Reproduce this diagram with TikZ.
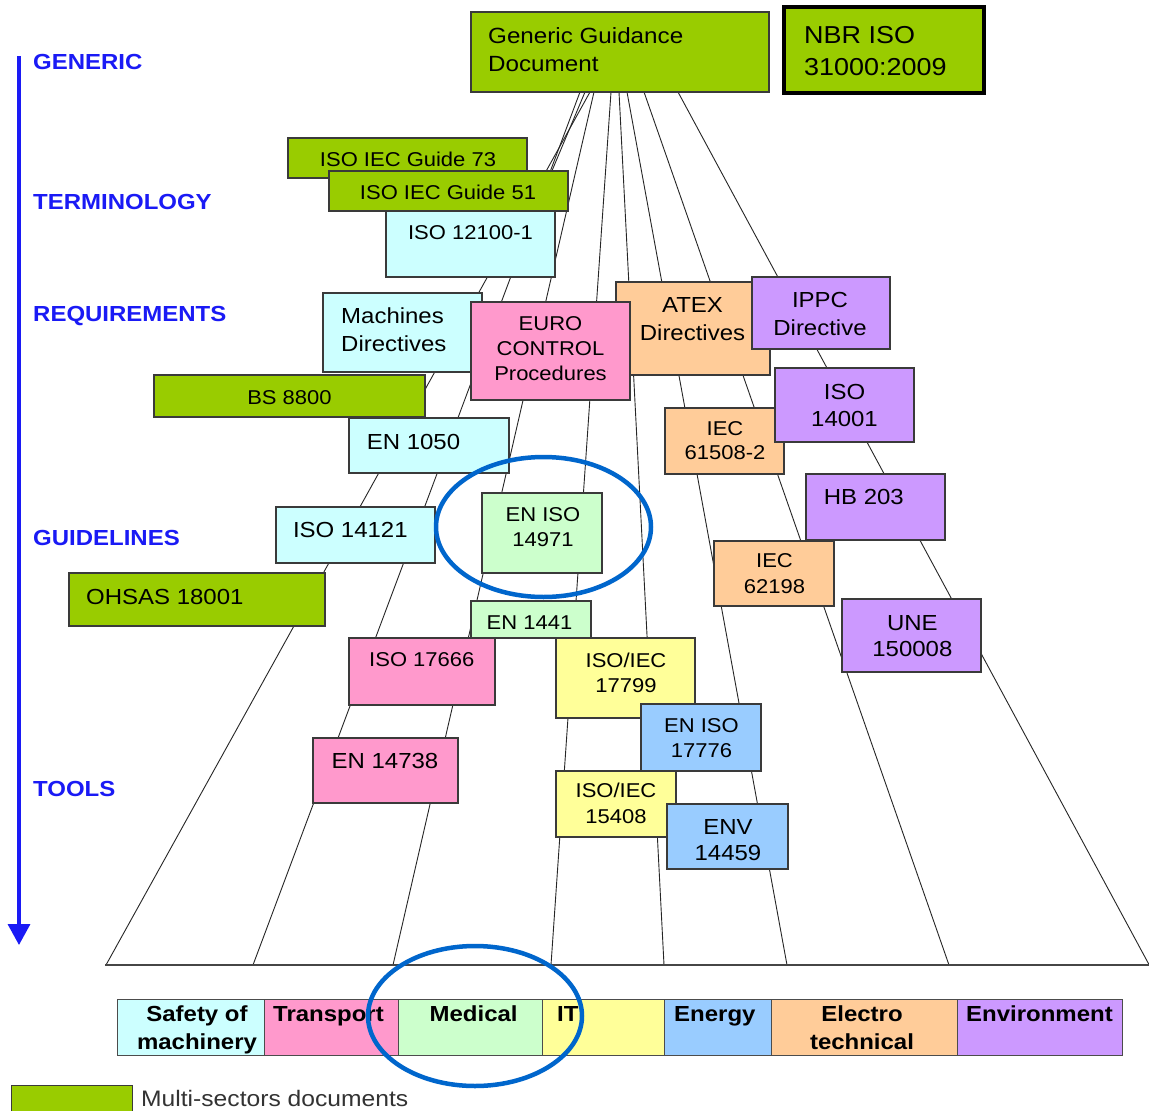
\documentclass[tikz,border=0pt]{standalone}
\usepackage{fontspec}
\setmainfont{Liberation Sans}[FakeStretch=1.1]
\usetikzlibrary{arrows.meta,shapes.geometric}
\definecolor{cgreen}{HTML}{99CC00}
\definecolor{ccyan}{HTML}{CCFFFF}
\definecolor{cpink}{HTML}{FF99CC}
\definecolor{clgreen}{HTML}{CCFFCC}
\definecolor{cyellow}{HTML}{FFFF99}
\definecolor{cblue}{HTML}{99CCFF}
\definecolor{corange}{HTML}{FFCC99}
\definecolor{clilac}{HTML}{CC99FF}
\definecolor{catblue}{HTML}{1A1AF5}
\definecolor{ringblue}{HTML}{0066CC}
\definecolor{boxline}{HTML}{3A3A3A}
\definecolor{legtext}{HTML}{333333}
\newcommand\mkbox[7][]{\node[box,#1,fill=#7,minimum width={#5-#3},minimum height={#6-#4},anchor=north west] (#2) at (#3,#4) {};}
\tikzset{
 box/.style={draw=boxline,line width=1.2pt,rectangle,inner sep=0pt,outer sep=0pt},
 sm/.style={inner sep=0pt,align=center,font=\fontsize{20}{25}\selectfont},
 lg/.style={inner sep=0pt,align=center,font=\fontsize{21.8}{28}\selectfont},
 cat/.style={inner sep=0pt,anchor=base west,text=catblue,font=\bfseries\fontsize{21.8}{26}\selectfont},
 sec/.style={inner sep=0pt,align=center,font=\bfseries\fontsize{21.8}{28}\selectfont},
 ray/.style={draw=black!85,line width=0.9pt},
 ring/.style={ellipse,draw=ringblue,line width=4.5pt,inner sep=0pt},
 secbox/.style={draw=gray!60!black,line width=1pt},
}
\begin{document}
\begin{tikzpicture}[x=1pt,y=-1pt]
\clip (0,0) rectangle (1149,1111);
\fill[white] (0,0) rectangle (1149,1111);
% ray end points
\coordinate (t0) at (585,92);
\coordinate (t1) at (590,92);
\coordinate (t2) at (580,92);
\coordinate (t3) at (594,92);
\coordinate (t4) at (611,92);
\coordinate (t5) at (619,92);
\coordinate (t6) at (627,92);
\coordinate (t7) at (644,92);
\coordinate (t8) at (678,92);
\coordinate (g51in) at (546,185);
\coordinate (b1) at (106,965);
\coordinate (b2) at (253,965);
\coordinate (b3) at (393,965);
\coordinate (b4) at (551,965);
\coordinate (b5) at (664,965);
\coordinate (b6) at (787,965);
\coordinate (b7) at (949,965);
\coordinate (b8) at (1180,1022);
\coordinate (bl1) at (105,965);
\coordinate (bl2) at (1149,965);
\coordinate (atop) at (19,56);
\coordinate (abot) at (19,945);
% rays
\draw[ray] (t0) -- (g51in);
\draw[ray] (t1) -- (b1);
\draw[ray] (t2) -- (b2);
\draw[ray] (t3) -- (b3);
\draw[ray] (t4) -- (b4);
\draw[ray] (t5) -- (b5);
\draw[ray] (t6) -- (b6);
\draw[ray] (t7) -- (b7);
\draw[ray] (t8) -- (b8);
\draw[line width=2.5pt,draw=gray!55!black] (bl1) -- (bl2);
% arrow
\draw[catblue,line width=3.5pt,-{Triangle[width=22pt,length=21pt]}] (atop) -- (abot);
% category labels
\node[cat] (lgeneric) at (33,69.8) {GENERIC};
\node[cat] (lterm) at (33,209.8) {TERMINOLOGY};
\node[cat] (lreq) at (33,321.8) {REQUIREMENTS};
\node[cat] (lguide) at (33,545.8) {GUIDELINES};
\node[cat] (ltools) at (33,796.8) {TOOLS};
% boxes
\mkbox{gen}{471}{12}{769}{92}{cgreen}
\mkbox[draw=black,line width=4pt]{nbr}{784}{7}{984}{93}{cgreen}
\mkbox{g73}{288}{138}{527}{178}{cgreen}
\mkbox{g51}{329}{171}{568}{211}{cgreen}
\mkbox{i12100}{386}{211}{555}{277}{ccyan}
\mkbox{mach}{323}{293}{482}{372}{ccyan}
\mkbox{atex}{616}{282}{770}{375}{corange}
\mkbox{euro}{471}{302}{630}{400}{cpink}
\mkbox{ippc}{752}{277}{890}{349}{clilac}
\mkbox{iec61508}{665}{408}{784}{474}{corange}
\mkbox{iso14001}{775}{368}{914}{442}{clilac}
\mkbox{bs}{154}{375}{425}{417}{cgreen}
\mkbox{en1050}{349}{418}{509}{473}{ccyan}
\mkbox{hb203}{806}{474}{945}{540}{clilac}
\mkbox{iso14121}{276}{507}{435}{563}{ccyan}
\mkbox{en14971}{482}{493}{602}{573}{clgreen}
\mkbox{ohsas}{69}{573}{325}{626}{cgreen}
\mkbox{iec62198}{714}{541}{834}{606}{corange}
\mkbox{en1441}{471}{601}{591}{638}{clgreen}
\mkbox[line width=1.6pt]{une}{842}{599}{981}{672}{clilac}
\mkbox{iso17666}{349}{638}{495}{705}{cpink}
\mkbox{iso17799}{556}{638}{695}{718}{cyellow}
\mkbox[line width=1.6pt]{en17776}{641}{704}{761}{771}{cblue}
\mkbox{en14738}{313}{738}{458}{803}{cpink}
\mkbox{iso15408}{556}{771}{676}{837}{cyellow}
\mkbox[line width=1.6pt]{env}{667}{804}{788}{869}{cblue}
% box texts
\node[inner sep=0pt,align=left,anchor=west,font=\fontsize{22}{28}\selectfont] (gen-t) at (488,50) {Generic Guidance\\Document};
\node[inner sep=0pt,align=left,anchor=west,font=\fontsize{24.5}{32}\selectfont] (nbr-t) at (804,51) {NBR ISO\\31000:2009};
\node[sm,anchor=base] (g73-t) at (408,166) {ISO IEC Guide 73};
\node[sm,anchor=base] (g51-t) at (448,199) {ISO IEC Guide 51};
\node[sm,anchor=base] (i12100-t) at (470.5,239) {ISO 12100-1};
\node[lg,align=left,anchor=west] (mach-t) at (341,330) {Machines\\Directives};
\node[sm] (euro-t) at (550.5,349) {EURO\\CONTROL\\Procedures};
\node[lg] (atex-t) at (692.5,319) {ATEX\\Directives};
\node[lg] (ippc-t) at (820,313.5) {IPPC\\Directive};
\node[lg,font=\fontsize{21.8}{27}\selectfont] (iso14001-t) at (844.5,405.5) {ISO\\14001};
\node[sm,anchor=base] (bs-t) at (289.5,404) {BS 8800};
\node[lg,anchor=base west] (en1050-t) at (366.6,449.5) {EN 1050};
\node[sm,font=\fontsize{20}{24}\selectfont] (iec61508-t) at (725,441) {IEC\\61508-2};
\node[lg,anchor=base west] (hb203-t) at (823.6,504.8) {HB 203};
\node[lg,anchor=base west] (iso14121-t) at (292.8,537.8) {ISO 14121};
\node[sm,font=\fontsize{20}{24.5}\selectfont] (en14971-t) at (543,527) {EN ISO\\14971};
\node[lg,anchor=base west] (ohsas-t) at (86,604.8) {OHSAS 18001};
\node[sm,font=\fontsize{20}{26}\selectfont] (iec62198-t) at (774.5,574) {IEC\\62198};
\node[sm,anchor=base] (en1441-t) at (529.5,629.2) {EN 1441};
\node[lg,font=\fontsize{21.8}{26.6}\selectfont] (une-t) at (912.4,636) {UNE\\150008};
\node[sm,anchor=base] (iso17666-t) at (421.8,666.5) {ISO 17666};
\node[sm] (iso17799-t) at (626,672.5) {ISO/IEC\\17799};
\node[sm,font=\fontsize{20}{25.5}\selectfont] (en17776-t) at (701.5,738) {EN ISO\\17776};
\node[lg,anchor=base] (en14738-t) at (385,768.5) {EN 14738};
\node[sm,font=\fontsize{20}{26}\selectfont] (iso15408-t) at (616,803.7) {ISO/IEC\\15408};
\node[lg,font=\fontsize{21.8}{26.6}\selectfont] (env-t) at (728,840) {ENV\\14459};
% sector bar
\mkbox[secbox]{s1}{117}{999}{264}{1055}{ccyan}
\mkbox[secbox]{s2}{264}{999}{398}{1055}{cpink}
\mkbox[secbox]{s3}{398}{999}{542}{1055}{clgreen}
\mkbox[secbox]{s4}{542}{999}{664}{1055}{cyellow}
\mkbox[secbox]{s5}{664}{999}{771}{1055}{cblue}
\mkbox[secbox]{s6}{771}{999}{957}{1055}{corange}
\mkbox[secbox]{s7}{957}{999}{1122}{1055}{clilac}
\node[sec] (s1-t) at (197,1030) {Safety of\\machinery};
\node[sec,anchor=base west] (s2-t) at (273,1021.8) {Transport};
\node[sec,anchor=base] (s3-t) at (473.6,1021.8) {Medical};
\node[sec,anchor=base west] (s4-t) at (557,1021.8) {IT};
\node[sec,anchor=base west] (s5-t) at (674,1021.8) {Energy};
\node[sec] (s6-t) at (862,1028) {Electro\\technical};
\node[sec,anchor=base west] (s7-t) at (966,1021.8) {Environment};
% highlight rings
\node[ring,minimum width=215pt,minimum height=140pt] (ring1) at (543.5,527) {};
\node[ring,minimum width=214pt,minimum height=140pt] (ring2) at (475,1016) {};
% legend
\mkbox[line width=1pt]{leg}{11}{1085}{132}{1118}{cgreen}
\node[inner sep=0pt,anchor=base west,text=legtext,font=\fontsize{22.4}{26}\selectfont] (leg-t) at (141,1106) {Multi-sectors documents};
\end{tikzpicture}
\end{document}
